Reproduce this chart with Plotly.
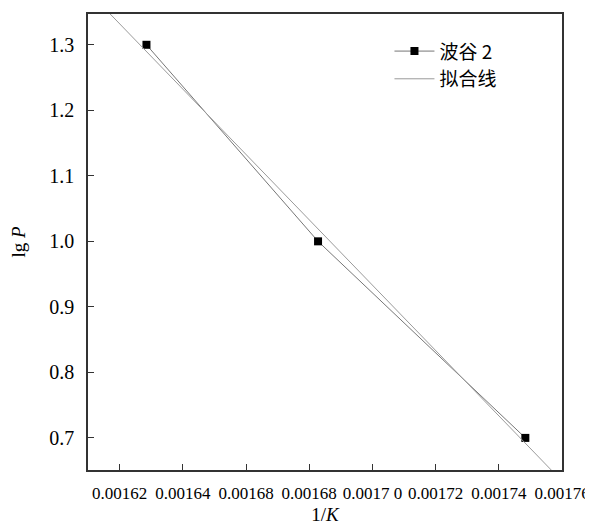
import plotly.graph_objects as go

# Data
x_data = [0.0016285, 0.0016828, 0.0017484]
y_data = [1.30, 1.00, 0.70]

fit_x = [0.00161, 0.00176]
fit_y = [1.382, 0.634]

x_tickvals = [0.00162, 0.00164, 0.00166, 0.00168, 0.00170, 0.00172, 0.00174, 0.00176]
x_ticktext = ["0.00162", "0.00164", "0.00168", "0.00168", "0.0017 0", "0.00172", "0.00174", "0.00176"]
y_tickvals = [0.7, 0.8, 0.9, 1.0, 1.1, 1.2, 1.3]
y_ticktext = ["0.7", "0.8", "0.9", "1.0", "1.1", "1.2", "1.3"]

serif = "Liberation Serif, Times New Roman, serif"

fig = go.Figure()
fig.add_trace(go.Scatter(
    x=x_data, y=y_data, mode="lines+markers", name="波谷 2",
    line=dict(color="#666666", width=0.9),
    marker=dict(symbol="square", size=8, color="black"),
))
fig.add_trace(go.Scatter(
    x=fit_x, y=fit_y, mode="lines", name="拟合线",
    line=dict(color="#9a9a9a", width=1),
))

axis_common = dict(
    showline=True, linecolor="#333333", linewidth=1.5, mirror=True,
    ticks="inside", ticklen=6, tickwidth=1, tickcolor="#333333",
    showgrid=False, zeroline=False, automargin=False,
)

fig.update_xaxes(
    range=[0.00161, 0.00176], tickmode="array",
    tickvals=x_tickvals, ticktext=x_ticktext,
    tickfont=dict(family=serif, size=17, color="black"),
    ticklabelstandoff=7,
    title=dict(text="1/<i>K</i>", font=dict(family=serif, size=19, color="black"), standoff=6),
    **axis_common,
)
fig.update_yaxes(
    range=[0.651, 1.347], tickmode="array",
    tickvals=y_tickvals, ticktext=y_ticktext,
    tickfont=dict(family=serif, size=20, color="black"),
    ticklabelstandoff=8,
    title=dict(text="lg <i>P</i>", font=dict(family=serif, size=19, color="black"), standoff=22),
    **axis_common,
)

fig.update_layout(
    width=593, height=528,
    margin=dict(l=80, r=39, t=6, b=66),
    plot_bgcolor="white", paper_bgcolor="white",
    font=dict(family=serif, color="black"),
    legend=dict(
        x=0.636, y=0.96, xanchor="left", yanchor="top",
        bgcolor="rgba(0,0,0,0)",
        font=dict(family="Noto Sans CJK SC", size=19, color="black"),
        itemwidth=40, tracegroupgap=0,
    ),
)

fig.write_html("out.html")
